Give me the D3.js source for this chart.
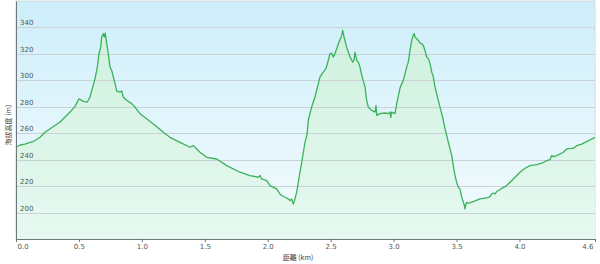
<!DOCTYPE html>
<html><head><meta charset="utf-8">
<script src="https://cdn.jsdelivr.net/npm/d3@7"></script>
<style>html,body{margin:0;padding:0;background:#fff;}svg{display:block;}</style>
</head><body>
<svg id="chart" width="600" height="264"></svg>
<script>
// Distance along route (km)
const distance = [0.000,0.032,0.072,0.111,0.137,0.191,0.230,0.350,0.429,0.469,0.501,0.535,0.566,0.588,0.606,0.628,0.646,0.659,0.673,0.681,0.694,0.702,0.709,0.721,0.733,0.747,0.760,0.787,0.800,0.826,0.840,0.852,0.879,0.919,0.945,0.985,1.038,1.104,1.170,1.223,1.303,1.382,1.409,1.422,1.462,1.515,1.595,1.674,1.780,1.859,1.925,1.939,1.952,1.992,2.018,2.071,2.097,2.111,2.137,2.163,2.177,2.190,2.203,2.216,2.230,2.243,2.256,2.270,2.283,2.296,2.310,2.314,2.322,2.349,2.375,2.402,2.415,2.441,2.463,2.481,2.495,2.508,2.521,2.534,2.561,2.588,2.596,2.606,2.627,2.654,2.675,2.685,2.693,2.707,2.720,2.733,2.747,2.773,2.786,2.799,2.826,2.853,2.860,2.866,2.892,2.932,2.958,2.971,2.977,2.985,3.011,3.025,3.051,3.077,3.104,3.117,3.130,3.144,3.156,3.164,3.170,3.183,3.196,3.210,3.223,3.236,3.249,3.263,3.276,3.289,3.303,3.311,3.316,3.329,3.355,3.382,3.395,3.408,3.416,3.435,3.462,3.474,3.488,3.501,3.514,3.527,3.541,3.559,3.567,3.575,3.581,3.593,3.633,3.686,3.740,3.766,3.779,3.792,3.806,3.819,3.845,3.898,3.951,4.004,4.044,4.084,4.137,4.177,4.216,4.243,4.256,4.269,4.296,4.348,4.375,4.415,4.428,4.455,4.494,4.534,4.574,4.600];
// Elevation (m)
const elevation = [249.4,251.1,251.8,253.1,253.7,256.9,260.7,268.5,276.0,280.3,286.1,284.1,283.6,287.4,293.7,301.3,310.0,320.1,325.1,332.7,335.3,332.7,335.7,327.7,320.1,310.0,307.5,297.5,291.9,291.1,291.9,287.4,284.9,282.4,279.8,274.8,271.0,266.0,260.7,256.9,253.1,249.4,250.6,249.4,245.6,241.8,240.5,235.5,230.5,228.0,226.7,228.0,225.4,224.2,220.4,217.9,214.1,212.9,211.6,210.3,209.1,210.3,206.5,210.3,215.4,222.9,230.5,238.0,245.6,253.1,258.2,260.7,269.8,279.8,287.4,297.5,302.5,306.2,308.8,315.1,320.1,320.6,317.6,320.1,327.7,334.0,337.7,332.7,325.1,317.6,313.8,315.1,321.4,315.1,313.8,310.0,303.8,294.9,284.9,279.8,277.3,276.0,281.1,273.5,274.8,275.3,274.8,276.0,271.8,276.0,274.8,282.4,294.3,300.0,310.0,313.8,322.6,330.2,334.0,335.3,332.7,331.5,330.2,328.2,327.7,326.4,322.6,317.6,316.4,312.6,306.2,303.8,302.5,294.9,284.9,274.8,269.8,263.5,260.7,253.1,243.1,235.5,228.0,222.9,219.1,217.9,211.6,206.5,202.7,206.5,207.8,207.0,208.3,210.3,211.1,212.1,214.1,214.8,214.1,215.9,217.4,220.4,225.4,230.5,233.5,235.5,236.3,237.3,239.3,240.1,243.1,242.3,243.1,245.6,248.1,248.6,248.6,250.6,251.8,253.7,255.6,256.9];
const xTicks = [0, 0.5, 1.0, 1.5, 2.0, 2.5, 3.0, 3.5, 4.0, 4.6];
const xTickLabels = ["0.0","0.5","1.0","1.5","2.0","2.5","3.0","3.5","4.0","4.6"];
const yTicks = [200, 220, 240, 260, 280, 300, 320, 340];
const yDomain = [180, 360];
const xDomain = [0, 4.6];
const xTitle = "距離 (km)";
const yTitle = "海拔高度 (m)";

const svg = d3.select("#chart");
const L = 16, R = 595, T = 1, B = 239;
const x = d3.scaleLinear().domain(xDomain).range([L, R]);
const y = d3.scaleLinear().domain(yDomain).range([B, T]);
const data = distance.map((d, i) => ({d, e: elevation[i]}));

const defs = svg.append("defs");
const bg = defs.append("linearGradient").attr("id","bg").attr("x1",0).attr("y1",0).attr("x2",0).attr("y2",1);
bg.append("stop").attr("offset","0%").attr("stop-color","#cdeefa");
bg.append("stop").attr("offset","100%").attr("stop-color","#f6fcfe");
const ag = defs.append("linearGradient").attr("id","ag").attr("gradientUnits","userSpaceOnUse")
  .attr("x1",0).attr("y1",T).attr("x2",0).attr("y2",B);
ag.append("stop").attr("offset","0%").attr("stop-color","#cdf0dc");
ag.append("stop").attr("offset","100%").attr("stop-color","#e6f9f1");

svg.append("rect").attr("x",L).attr("y",T).attr("width",R-L).attr("height",B-T)
  .attr("fill","url(#bg)").attr("stroke","#d4dadc").attr("stroke-width",1);

const area = d3.area().x(p => x(p.d)).y0(y(yDomain[0])).y1(p => y(p.e));
svg.append("path").datum(data).attr("d", area).attr("fill","url(#ag)");

// grid lines
svg.append("g").selectAll("line").data(yTicks).join("line")
  .attr("x1",L).attr("x2",R).attr("y1",v=>Math.round(y(v))+0.5).attr("y2",v=>Math.round(y(v))+0.5)
  .attr("stroke","#c9d3d6").attr("stroke-width",1);

const line = d3.line().x(p => x(p.d)).y(p => y(p.e));
svg.append("path").datum(data).attr("d", line).attr("fill","none")
  .attr("stroke","#3bb15a").attr("stroke-width",1.3).attr("stroke-linejoin","round");

// y tick labels (inside plot)
svg.append("g").selectAll("text").data(yTicks).join("text")
  .attr("x", L+4).attr("y", v => y(v)-2)
  .attr("font-family","DejaVu Sans, sans-serif").attr("font-size",7)
  .attr("fill","#555").text(v => v);

// axes
const xAxis = d3.axisBottom(x).tickValues(xTicks).tickFormat((v,i)=>xTickLabels[i]).tickSize(3).tickSizeOuter(0);
const gx = svg.append("g").attr("transform",`translate(0,${B})`).call(xAxis);
gx.select(".domain").attr("stroke","#6e7679");
gx.selectAll(".tick line").attr("stroke","#6e7679");
gx.selectAll(".tick text").attr("font-family","DejaVu Sans, sans-serif").attr("font-size",7).attr("fill","#555").attr("dy","0.55em");
gx.selectAll(".tick text").filter((v,i)=>i===0).attr("text-anchor","start").attr("dx",1);
gx.selectAll(".tick text").filter((v,i)=>i===xTicks.length-1).attr("text-anchor","end").attr("dx",-2);

const gy = svg.append("g").attr("transform",`translate(${L},0)`).call(d3.axisLeft(y).tickValues([]).tickSizeOuter(0));
gy.select(".domain").attr("stroke","#6e7679");

svg.append("text").attr("x",298).attr("y",260).attr("text-anchor","middle")
  .attr("font-family","Noto Sans CJK TC, sans-serif").attr("font-size",7).attr("fill","#444").text(xTitle);
svg.append("text").attr("transform",`translate(11,125) rotate(-90)`).attr("text-anchor","middle")
  .attr("font-family","Noto Sans CJK TC, sans-serif").attr("font-size",7).attr("fill","#444").text(yTitle);
</script>
</body></html>
